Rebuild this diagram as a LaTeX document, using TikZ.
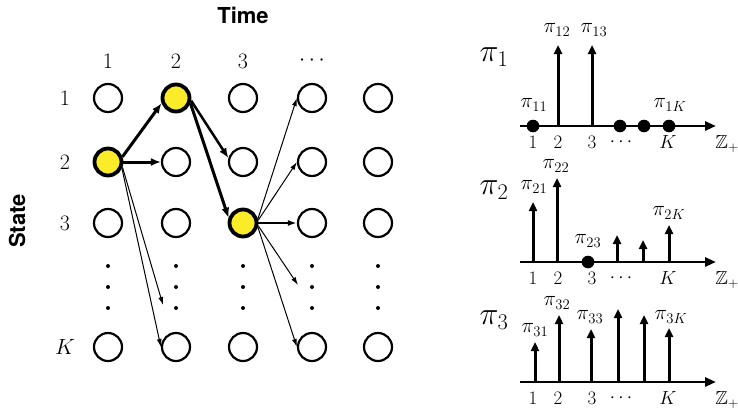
\RequirePackage{fix-cm}
\documentclass[tikz,border=0pt]{standalone}
\usepackage{amssymb}
\usepackage{fontspec}
\newfontfamily\headfont{TeX Gyre Heros}
\usetikzlibrary{arrows.meta}
\definecolor{hotyellow}{RGB}{250,236,40}
\begin{document}
\begin{tikzpicture}[x=1pt,y=-1pt,
  state/.style={circle,draw,line width=2.2pt,minimum size=28pt,inner sep=0pt},
  hot/.style={fill=hotyellow,line width=3.8pt,minimum size=27pt},
  kind-1-2/.style={hot}, kind-2-1/.style={hot}, kind-3-3/.style={hot},
  bold/.style={line width=3pt,-{Latex[length=10pt,width=8pt]}},
  mid/.style={line width=1.8pt,-{Latex[length=9pt,width=6pt]}},
  fine/.style={line width=1pt,-{Latex[length=8pt,width=5pt]}},
  num/.style={font=\fontsize{22}{26}\selectfont},
  head/.style={font=\headfont\bfseries\fontsize{22}{26}\selectfont},
  tick/.style={font=\fontsize{19}{22}\selectfont},
  lab/.style={font=\fontsize{21}{24}\selectfont},
  big/.style={font=\fontsize{32}{38}\selectfont},
  axis/.style={line width=2.8pt,-{Triangle[length=11pt,width=9pt]}},
  stem/.style={line width=3pt,-{Triangle[length=9pt,width=8pt]}},
]
\useasboundingbox (0,0) rectangle (738,410);

% ---------- trellis of states over time ----------
\node[head] (time) at (243,15) {Time};
\node[head,rotate=90] (statelab) at (17,221) {State};

\foreach \c/\x/\t in {1/108/1,2/176/2,3/243/3,4/312/{$\cdots$}}
  \node[num] (t-\c) at (\x,61) {\t};
\foreach \r/\y/\t in {1/98/1,2/162/2,3/223/3,K/347/$K$}
  \node[num] (s-\r) at (65,\y) {\t};

\foreach \c/\x in {1/108,2/176,3/243,4/312,5/378} {
  \foreach \r/\y in {1/98,2/162,3/223,K/347}
    \node[state,kind-\c-\r/.try] (n-\c-\r) at (\x,\y) {};
  \foreach \y in {266,287,308}
    \fill (\x,\y) circle (2);
}

\coordinate (m2) at (163,305);
\coordinate (m4) at (298,285);

\draw[bold] (n-1-2.20) -- (n-2-1.200);
\draw[bold] (n-1-2.east) -- (n-2-2.west);
\draw[fine] (n-1-2.-20) -- (m2);
\draw[fine] (n-1-2.-25) -- (n-2-K.west);

\draw[bold,line width=2.5pt] (n-2-1.-10) -- (n-3-2.165);
\draw[bold] (n-2-1.-20) -- (n-3-3.160);

\draw[fine] (n-3-3.15) -- (n-4-1.west);
\draw[fine] (n-3-3.10) -- (n-4-2.west);
\draw[mid] (n-3-3.east) -- (n-4-3.west);
\draw[fine] (n-3-3.-10) -- (m4);
\draw[fine] (n-3-3.-15) -- (n-4-K.west);

% ---------- distributions pi_1, pi_2, pi_3 ----------
\node[big] (p1) at (494,57) {$\pi_1$};
\node[big] (p2) at (494,190) {$\pi_2$};
\node[big] (p3) at (494,320) {$\pi_3$};

% axis labels shared by the three plots
\foreach \k/\ay in {1/126,2/262,3/382} {
  \coordinate (a\k) at (520,\ay);
  \coordinate (b\k) at (716,\ay);
  \node[tick] at (533,\ay+16) {1};
  \node[tick] at (558,\ay+16) {2};
  \node[tick] at (592,\ay+16) {3};
  \node[tick] at (621,\ay+16) {$\cdots$};
  \node[tick] at (668,\ay+16) {$K$};
  \node[tick] at (727,\ay+18) {$\mathbb{Z}_+$};
}

% pi_1
\draw[stem] (558,126) -- (558,45);
\draw[stem] (592,126) -- (592,45);
\draw[axis] (a1) -- (b1);
\foreach \x in {533,620,644,669} \fill (\x,126) circle (6.3);
\node[lab] at (557,30) {$\pi_{12}$};
\node[lab] at (594,30) {$\pi_{13}$};
\node[lab] at (534,105) {$\pi_{11}$};
\node[lab] at (670,105) {$\pi_{1K}$};

% pi_2
\draw[stem] (533,262) -- (533,202);
\draw[stem] (557,262) -- (557,178);
\draw[stem] (617,262) -- (617,235);
\draw[stem] (643,262) -- (643,240);
\draw[stem] (669,262) -- (669,225);
\draw[axis] (a2) -- (b2);
\fill (588,262) circle (6.3);
\node[lab] at (534,187) {$\pi_{21}$};
\node[lab] at (556,166) {$\pi_{22}$};
\node[lab] at (588,241) {$\pi_{23}$};
\node[lab] at (669,213) {$\pi_{2K}$};

% pi_3
\draw[stem] (535,382) -- (535,342);
\draw[stem] (559,382) -- (559,315);
\draw[stem] (591,382) -- (591,329);
\draw[stem] (618,382) -- (618,309);
\draw[stem] (644,382) -- (644,315);
\draw[stem] (669,382) -- (669,328);
\draw[axis] (a3) -- (b3);
\node[lab] at (535,330) {$\pi_{31}$};
\node[lab] at (557,303) {$\pi_{32}$};
\node[lab] at (590,317) {$\pi_{33}$};
\node[lab] at (671,317) {$\pi_{3K}$};
\end{tikzpicture}
\end{document}
